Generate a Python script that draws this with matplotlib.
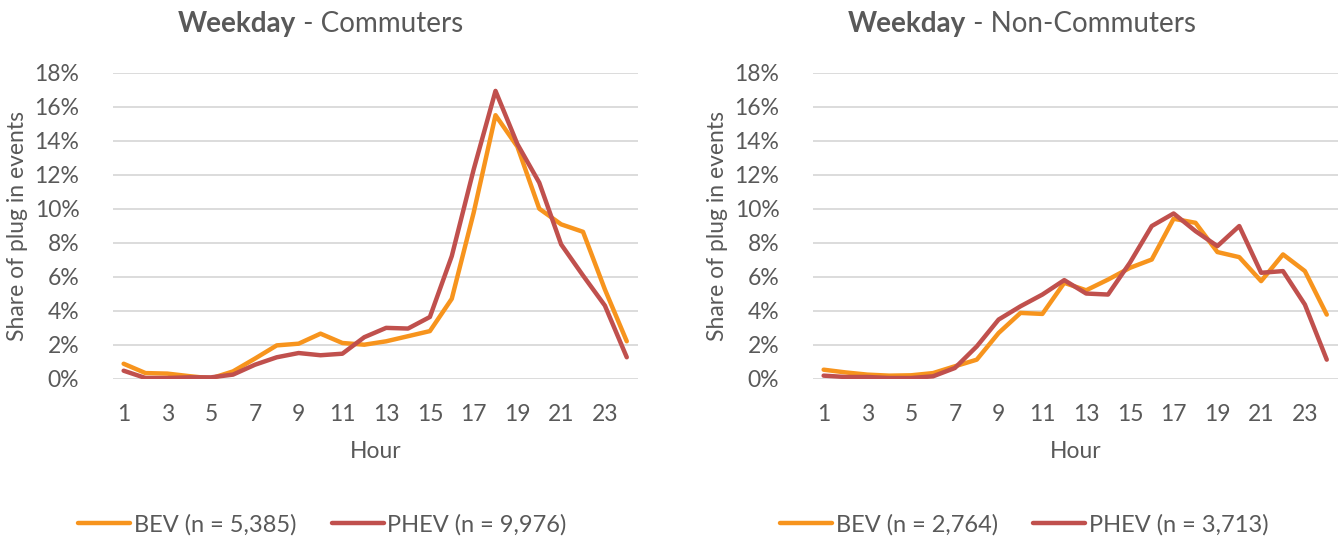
import matplotlib
matplotlib.use("Agg")
import matplotlib.pyplot as plt
from matplotlib.ticker import PercentFormatter

plt.rcParams['font.family'] = ['Lato', 'DejaVu Sans']

hours = list(range(1, 25))

# Commuters, share of plug in events (%)
comm_bev = [0.88, 0.33, 0.30, 0.15, 0.02, 0.43, 1.18, 1.96, 2.06, 2.65, 2.10, 2.00,
            2.20, 2.50, 2.80, 4.70, 9.76, 15.5, 13.65, 10.0, 9.08, 8.64, 5.25, 2.20]
comm_phev = [0.47, 0.04, 0.04, 0.08, 0.08, 0.24, 0.82, 1.26, 1.51, 1.38, 1.47, 2.44,
             2.99, 2.95, 3.63, 7.21, 12.3, 16.93, 13.8, 11.53, 7.90, 6.07, 4.30, 1.26]

# Non-commuters
non_bev = [0.53, 0.37, 0.24, 0.18, 0.20, 0.33, 0.73, 1.12, 2.69, 3.87, 3.81, 5.64,
           5.20, 5.83, 6.52, 7.01, 9.41, 9.17, 7.45, 7.15, 5.74, 7.31, 6.33, 3.77]
non_phev = [0.18, 0.10, 0.10, 0.04, 0.04, 0.14, 0.63, 1.90, 3.48, 4.26, 4.95, 5.80,
            5.01, 4.95, 6.82, 8.98, 9.72, 8.68, 7.80, 8.98, 6.23, 6.33, 4.36, 1.12]

titles = ["Commuters", "Non-Commuters"]
bev_labels = ["BEV (n = 5,385)", "BEV (n = 2,764)"]
phev_labels = ["PHEV (n = 9,976)", "PHEV (n = 3,713)"]

ORANGE = "#F7941D"
RED = "#C0504D"
GREY = "#595959"
GRID = "#D9D9D9"

W, H = 1343, 542
fig = plt.figure(figsize=(W / 100, H / 100), dpi=100)

lefts = [112.7, 812.7]
title_centers = [320.5, 1022]
legend_centers = [322.5, 1024.5]
ylabel_x = [18, 718]
series = [(comm_bev, comm_phev), (non_bev, non_phev)]

for i in range(2):
    ax = fig.add_axes([lefts[i] / W, 1 - 378.7 / H, 525 / W, 306 / H])
    bev, phev = series[i]
    l1, = ax.plot(hours, bev, color=ORANGE, lw=3.2, solid_capstyle='round', label=bev_labels[i])
    l2, = ax.plot(hours, phev, color=RED, lw=3.2, solid_capstyle='round', label=phev_labels[i])
    ax.set_xlim(0.5, 24.5)
    ax.set_ylim(0, 18)
    ax.set_yticks(range(0, 19, 2))
    ax.yaxis.set_major_formatter(PercentFormatter(decimals=0))
    ax.set_xticks(range(1, 25, 2))
    ax.grid(axis='y', color=GRID, lw=1.3)
    ax.set_axisbelow(True)
    for s in ax.spines.values():
        s.set_visible(False)
    ax.tick_params(length=0, labelsize=16.5, colors=GREY)
    ax.tick_params(axis='y', pad=24)
    ax.tick_params(axis='x', pad=18)
    ax.set_xlabel("Hour", fontsize=16.5, color=GREY, labelpad=12)
    fig.text(ylabel_x[i] / W, 1 - 226 / H, "Share of plug in events", rotation=90,
             ha='center', va='center', fontsize=16.5, color=GREY)

    # title: bold "Weekday" + normal rest, centered together
    tb = fig.text(0, 1 - 32 / H, "Weekday", fontsize=20, fontweight='bold',
                  color=GREY, ha='left', va='baseline')
    tn = fig.text(0, 1 - 32 / H, " - " + titles[i], fontsize=20,
                  color=GREY, ha='left', va='baseline')
    fig.canvas.draw()
    r = fig.canvas.get_renderer()
    wb = tb.get_window_extent(r).width
    wn = tn.get_window_extent(r).width
    x0 = title_centers[i] - (wb + wn) / 2
    tb.set_x(x0 / W)
    tn.set_x((x0 + wb) / W)

    fig.legend(handles=[l1, l2], loc='center', bbox_to_anchor=(legend_centers[i] / W, 1 - 525 / H),
               ncol=2, frameon=False, fontsize=17, labelcolor=GREY, handlelength=2.2,
               handletextpad=0.15, columnspacing=1.5)

fig.savefig("out.png", dpi=100)
